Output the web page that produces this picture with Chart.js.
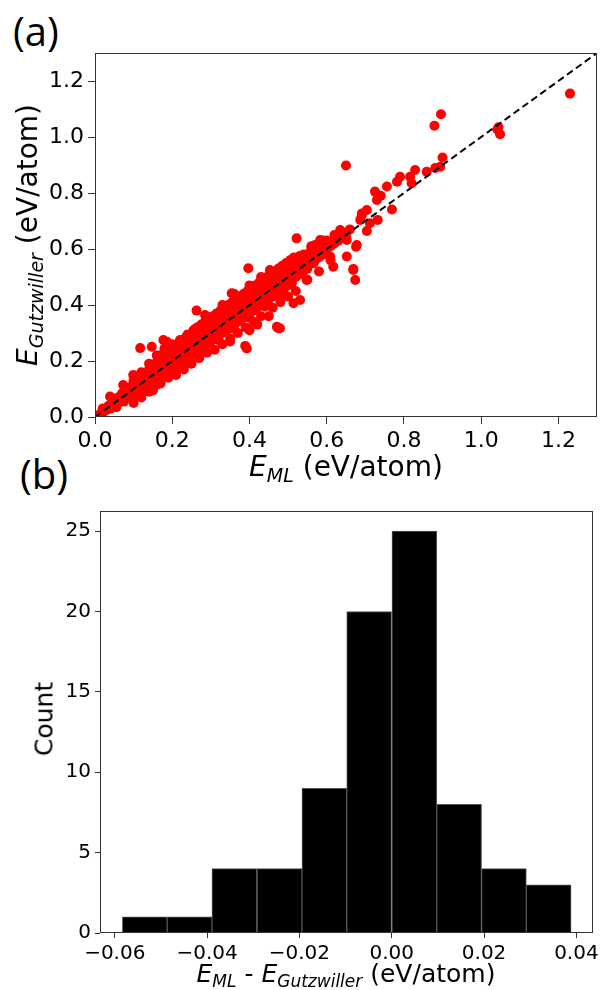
<!DOCTYPE html>
<html>
<head>
<meta charset="utf-8">
<script src="https://cdn.jsdelivr.net/npm/chart.js@4.4.1/dist/chart.umd.min.js"></script>
<style>
body { margin:0; background:#fff; width:603px; height:990px; position:relative; overflow:hidden; font-family:"DejaVu Sans", sans-serif; }
.box { position:absolute; left:0; width:603px; height:495px; }
#boxA { top:0; }
#boxB { top:495px; }
.lbl { position:absolute; font-family:"Open Sans", sans-serif; font-size:40px; color:#000; line-height:1; }
.ttl { position:absolute; white-space:nowrap; color:#000; line-height:1; transform:translate(-50%,-50%); }
.rot { transform:translate(-50%,-50%) rotate(-90deg); }
.ttl sub { font-size:0.68em; font-style:italic; vertical-align:-0.3em; line-height:0; }
</style>
</head>
<body>
<div class="lbl" style="left:13px; top:11px;">(a)</div>
<div class="lbl" style="left:20px; top:454px;">(b)</div>

<div class="box" id="boxA"><canvas id="chartA"></canvas></div>
<div class="box" id="boxB"><canvas id="chartB"></canvas></div>

<div class="ttl" style="left:346px; top:467px; font-size:28px;"><i>E</i><sub>ML</sub> (eV/atom)</div>
<div class="ttl rot" style="left:28px; top:235px; font-size:28px;"><i>E</i><sub>Gutzwiller</sub> (eV/atom)</div>
<div class="ttl" style="left:346px; top:973px; font-size:25px;"><i>E</i><sub>ML</sub> - <i>E</i><sub>Gutzwiller</sub> (eV/atom)</div>
<div class="ttl rot" style="left:44px; top:719px; font-size:25px;">Count</div>

<script>
// (a) E_ML vs E_Gutzwiller
const bandPoints = [
  [0.005,0.004],[0.012,0.010],[0.020,0.015],[0.020,0.030],[0.030,0.025],[0.035,0.040],[0.040,0.030],[0.045,0.060],
  [0.050,0.045],[0.055,0.035],[0.060,0.070],[0.060,0.050],[0.065,0.060],[0.070,0.085],[0.075,0.055],[0.080,0.075],
  [0.085,0.100],[0.090,0.070],[0.090,0.090],[0.095,0.110],[0.100,0.085],[0.100,0.125],[0.105,0.075],[0.110,0.100],
  [0.115,0.130],[0.120,0.090],[0.120,0.115],[0.125,0.145],[0.130,0.100],[0.130,0.125],[0.135,0.160],[0.140,0.110],
  [0.140,0.135],[0.145,0.175],[0.150,0.120],[0.150,0.150],[0.155,0.190],[0.160,0.130],[0.160,0.160],[0.165,0.210],
  [0.170,0.140],[0.170,0.175],[0.175,0.225],[0.180,0.150],[0.180,0.190],[0.185,0.240],[0.190,0.160],[0.190,0.200],
  [0.195,0.230],[0.200,0.170],[0.200,0.210],[0.205,0.250],[0.210,0.180],[0.210,0.220],[0.215,0.260],[0.220,0.190],
  [0.220,0.235],[0.225,0.270],[0.230,0.200],[0.230,0.245],[0.235,0.285],[0.240,0.210],[0.240,0.260],[0.245,0.290],
  [0.250,0.220],[0.250,0.270],[0.255,0.310],[0.260,0.230],[0.260,0.280],[0.265,0.320],[0.270,0.240],[0.270,0.290],
  [0.275,0.330],[0.280,0.250],[0.280,0.300],[0.285,0.340],[0.290,0.260],[0.290,0.310],[0.295,0.350],[0.300,0.270],
  [0.300,0.320],[0.305,0.360],[0.310,0.280],[0.310,0.330],[0.315,0.370],[0.320,0.290],[0.320,0.340],[0.325,0.380],
  [0.330,0.300],[0.330,0.350],[0.335,0.390],[0.340,0.310],[0.340,0.360],[0.345,0.400],[0.350,0.320],[0.350,0.370],
  [0.355,0.410],[0.360,0.330],[0.360,0.380],[0.365,0.420],[0.370,0.340],[0.370,0.390],[0.375,0.430],[0.380,0.350],
  [0.380,0.400],[0.385,0.440],[0.390,0.360],[0.390,0.410],[0.395,0.450],[0.400,0.370],[0.400,0.420],[0.405,0.460],
  [0.410,0.380],[0.410,0.430],[0.415,0.470],[0.420,0.390],[0.420,0.440],[0.425,0.480],[0.430,0.400],[0.430,0.450],
  [0.435,0.490],[0.440,0.410],[0.440,0.460],[0.445,0.500],[0.450,0.420],[0.450,0.470],[0.455,0.510],[0.460,0.430],
  [0.460,0.480],[0.465,0.520],[0.470,0.440],[0.470,0.490],[0.475,0.530],[0.480,0.450],[0.480,0.500],[0.485,0.540],
  [0.490,0.460],[0.490,0.510],[0.495,0.550],[0.500,0.470],[0.500,0.520],[0.505,0.560],[0.510,0.480],[0.510,0.530],
  [0.515,0.570],[0.520,0.500],[0.520,0.540],[0.530,0.510],[0.530,0.560],[0.540,0.520],[0.540,0.570],[0.550,0.530],
  [0.550,0.580],[0.560,0.550],[0.560,0.600],[0.570,0.560],[0.570,0.600],[0.580,0.570],[0.580,0.610],[0.590,0.580],
  [0.600,0.600],[0.600,0.630],[0.610,0.610],[0.620,0.620],[0.620,0.650],[0.630,0.630],[0.640,0.640],[0.640,0.660],
  [0.650,0.650],[0.660,0.670],
  [0.350,0.270],[0.400,0.310],[0.420,0.330],[0.450,0.360],[0.330,0.400],[0.360,0.440],[0.400,0.470],[0.430,0.500]
];

// lower and upper edges of the band, plus points filling its middle
const bandEdges = [
  [0.100,0.050],[0.120,0.070],[0.140,0.090],[0.150,0.095],[0.170,0.120],[0.190,0.140],[0.210,0.150],[0.230,0.170],
  [0.250,0.190],[0.270,0.210],[0.290,0.230],[0.310,0.240],[0.330,0.260],[0.350,0.280],[0.370,0.300],[0.390,0.320],
  [0.410,0.340],[0.430,0.360],[0.460,0.390],[0.480,0.410],[0.500,0.430],[0.520,0.450],[0.550,0.490],[0.580,0.520],
  [0.610,0.560],
  [0.120,0.160],[0.140,0.190],[0.160,0.220],[0.180,0.245],[0.200,0.260],[0.220,0.275],[0.240,0.295],[0.260,0.315],
  [0.280,0.330],[0.300,0.355],[0.320,0.370],[0.340,0.390],[0.370,0.410],[0.390,0.435],[0.410,0.455],[0.440,0.480],
  [0.470,0.510],[0.500,0.545],[0.530,0.575],[0.560,0.610],[0.590,0.630],
  [0.150,0.135],[0.250,0.245],[0.350,0.345],[0.450,0.445],[0.550,0.555],[0.190,0.180],[0.290,0.285],[0.390,0.385],
  [0.490,0.490]
];

const bandFill = [
  [0.10,0.09],[0.10,0.13],[0.12,0.11],[0.12,0.15],[0.14,0.13],[0.14,0.17],[0.16,0.15],[0.16,0.19],
  [0.18,0.17],[0.18,0.21],[0.20,0.19],[0.20,0.23],[0.22,0.21],[0.22,0.25],[0.24,0.23],[0.24,0.27],
  [0.26,0.25],[0.26,0.29],[0.28,0.27],[0.28,0.31],[0.30,0.29],[0.30,0.33],[0.32,0.31],[0.32,0.35],
  [0.34,0.33],[0.34,0.37],[0.36,0.35],[0.36,0.39],[0.38,0.37],[0.38,0.41],[0.40,0.39],[0.40,0.43],
  [0.42,0.41],[0.42,0.45],[0.44,0.43],[0.44,0.47],[0.46,0.45],[0.46,0.49],[0.48,0.47],[0.48,0.51],
  [0.50,0.49],[0.50,0.53],[0.52,0.51],[0.52,0.55],[0.54,0.54],[0.54,0.58],[0.56,0.57],[0.58,0.59],
  [0.16,0.115],[0.20,0.155],[0.24,0.195],[0.28,0.235],[0.32,0.275],[0.36,0.315],[0.40,0.355],[0.44,0.395],
  [0.48,0.435]
];

const sparsePoints = [
  [1.230,1.155],[0.896,1.081],[0.879,1.040],[1.045,1.035],[1.049,1.010],[1.042,1.027],[0.650,0.898],[0.900,0.927],
  [0.894,0.894],[0.881,0.889],[0.859,0.876],[0.829,0.882],[0.816,0.858],[0.790,0.858],[0.820,0.835],[0.782,0.840],
  [0.756,0.823],[0.725,0.805],[0.730,0.775],[0.740,0.790],[0.691,0.727],[0.704,0.739],[0.769,0.741],[0.732,0.704],
  [0.704,0.664],[0.712,0.692],[0.687,0.704],[0.522,0.638],[0.635,0.668],[0.622,0.644],[0.583,0.632],[0.570,0.614],
  [0.652,0.632],[0.676,0.608],[0.678,0.614],[0.652,0.573],[0.669,0.525],[0.674,0.489],[0.617,0.537],[0.531,0.418],
  [0.514,0.406],[0.479,0.317],[0.566,0.549],[0.548,0.489],[0.609,0.573],[0.397,0.531],[0.669,0.529],[0.691,0.721],
  [0.453,0.525],[0.505,0.525],[0.535,0.554],[0.263,0.380],[0.186,0.269],[0.475,0.317],[0.389,0.254],[0.354,0.442],
  [0.285,0.364],[0.147,0.251],[0.117,0.246],[0.177,0.275],[0.393,0.245],[0.471,0.322],[0.039,0.073],[0.073,0.114],
  [0.099,0.150]
];

const diagEnds = [0, 1.3];

// (b) histogram of E_ML - E_Gutzwiller
const binCenters = [-0.0535, -0.0438, -0.0341, -0.0243, -0.0146, -0.0049, 0.0049, 0.0146, 0.0243, 0.0340];
const binCounts  = [1, 1, 4, 4, 9, 20, 25, 8, 4, 3];

const frame = {
  id: 'frame',
  afterDraw(chart) {
    const a = chart.chartArea, ctx = chart.ctx;
    ctx.save();
    ctx.strokeStyle = '#333';
    ctx.lineWidth = 1;
    ctx.strokeRect(Math.round(a.left) + 0.5, Math.round(a.top) + 0.5,
                   Math.round(a.right - a.left) - 1, Math.round(a.bottom - a.top) - 1);
    ctx.restore();
  }
};

function axis(min, max, step, fmt, size, tick, fitKey, fitVal) {
  return {
    type: 'linear', min: min, max: max, offset: false,
    border: { display: false },
    grid: { offset: false, drawOnChartArea: false, drawTicks: true, tickLength: tick, tickColor: '#333', lineWidth: 1 },
    ticks: { stepSize: step, includeBounds: false, autoSkip: false, maxRotation: 0, padding: 4,
             color: '#000', font: { family: 'DejaVu Sans', size: size }, callback: fmt },
    afterFit(s) { s[fitKey] = fitVal; }
  };
}

const fmt1 = v => v.toFixed(1);
const fmt2 = v => Math.abs(v) < 1e-9 ? '0.00' : (v < 0 ? '\u2212' : '') + Math.abs(v).toFixed(2);

new Chart('chartA', {
  type: 'scatter',
  data: {
    datasets: [
      {
        type: 'line', order: 0,
        data: diagEnds.map(v => ({ x: v, y: v })),
        borderColor: '#000', borderWidth: 2, borderDash: [7, 4],
        pointRadius: 0, fill: false
      },
      {
        order: 1,
        data: bandPoints.concat(bandEdges, bandFill, sparsePoints).map(p => ({ x: p[0], y: p[1] })),
        backgroundColor: '#ff0000', borderWidth: 0, pointRadius: 5, pointHoverRadius: 5
      }
    ]
  },
  options: {
    responsive: true, maintainAspectRatio: false, animation: false,
    layout: { padding: { left: 0, right: 6, top: 53, bottom: 33 } },
    plugins: { legend: { display: false }, tooltip: { enabled: false } },
    scales: {
      x: axis(0, 1.3, 0.2, fmt1, 22, 7, 'height', 45),
      y: axis(0, 1.3, 0.2, fmt1, 22, 7, 'width', 95)
    }
  },
  plugins: [frame]
});

new Chart('chartB', {
  type: 'bar',
  data: {
    datasets: [{
      data: binCenters.map((c, i) => ({ x: c, y: binCounts[i] })),
      backgroundColor: '#000', borderColor: '#555', borderWidth: 1, borderSkipped: 'start',
      barPercentage: 1, categoryPercentage: 1
    }]
  },
  options: {
    responsive: true, maintainAspectRatio: false, animation: false,
    layout: { padding: { left: 0, right: 10, top: 10, bottom: 17 } },
    plugins: { legend: { display: false }, tooltip: { enabled: false } },
    scales: {
      x: axis(-0.0632, 0.0435, 0.02, fmt2, 20, 5, 'height', 40),
      y: axis(0, 26.25, 5, v => String(v), 20, 5, 'width', 100)
    }
  },
  plugins: [frame]
});
</script>
</body>
</html>
